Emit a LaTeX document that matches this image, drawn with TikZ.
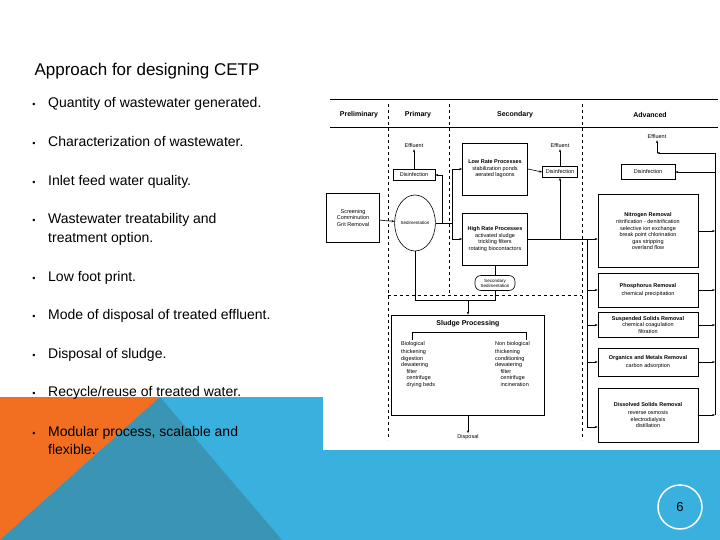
\documentclass[tikz,border=0pt]{standalone}
\usepackage{fontspec}
\setmainfont{Liberation Sans}
\usetikzlibrary{arrows.meta,shapes.geometric}
\definecolor{myorange}{HTML}{F26F21}
\definecolor{myblue}{HTML}{3AB0DE}
\definecolor{myteal}{HTML}{3A95B5}
\begin{document}
\begin{tikzpicture}[x=1pt,y=-1pt,
  bul/.style={anchor=base west,font=\fontsize{14}{17}\selectfont,inner sep=0pt},
  dot/.style={anchor=base,font=\fontsize{9}{10}\selectfont,inner sep=0pt},
  bx/.style={draw,line width=0.6pt,align=center,font=\fontsize{5.5}{6.5}\selectfont,inner sep=1pt},
  lb/.style={font=\fontsize{5.5}{6.5}\selectfont,align=center,inner sep=1pt},
  hd/.style={font=\bfseries\fontsize{7}{8}\selectfont},
  dl/.style={dashed,line width=0.6pt},
  ar/.style={-{Stealth[length=3pt]},line width=0.6pt},
  ln/.style={line width=0.6pt}]
\useasboundingbox (0,0) rectangle (720,540);
\fill[white] (0,0) rectangle (720,540);
% background shapes
\fill[myblue] (0,397) rectangle (720,540);
\fill[myorange] (0,397) -- (160,397) -- (0,540) -- cycle;
\fill[myteal] (160,397) -- (282,540) -- (0,540) -- cycle;
\fill[white] (323,95) rectangle (720,450);
\node[draw=white,line width=1.5pt,circle,minimum size=44pt,font=\fontsize{13}{15}\selectfont] (pg) at (680,507) {6};
% left text
\node[anchor=west,font=\fontsize{17}{20}\selectfont] (title) at (31,71) {Approach for designing CETP};
\foreach \y/\t [count=\i] in {108/{Quantity of wastewater generated.},147/{Characterization of wastewater.},186/{Inlet feed water quality.},281/{Low foot print.},319/{Mode of disposal of treated effluent.},358/{Disposal of sludge.},396/{Recycle/reuse of treated water.},224/{Wastewater treatability and},436/{Modular process, scalable and}}{
  \node[dot] (d\i) at (34,\y) {•};
  \node[bul] (b\i) at (48,\y) {\t};
}
\node[bul] (b8b) at (48,243) {treatment option.};
\node[bul] (b9b) at (48,454) {flexible.};
% diagram frame
\draw[line width=1pt] (330,100) -- (718,100);
\draw[line width=0.8pt] (330,127) -- (718,127);
\node[hd] (h1) at (359,115) {Preliminary};
\node[hd] (h2) at (418,115) {Primary};
\node[hd] (h3) at (515,115) {Secondary};
\node[hd] (h4) at (650,115) {Advanced};
\draw[dl] (388,104) -- (388,440);
\draw[dl] (449,104) -- (449,295);
\draw[dl] (582,104) -- (582,440);
\draw[dl] (388,295) -- (582,295);
% boxes
\node[bx,minimum width=53pt,minimum height=49pt] (scr) at (353,218) {Screening\\Comminution\\Grit Removal};
\node[draw,ellipse,line width=0.6pt,minimum width=36pt,minimum height=56pt,inner sep=0pt,font=\fontsize{4.5}{5}\selectfont] (sed) at (415,223) {Sedimentation};
\node[bx,minimum width=42pt,minimum height=11pt] (dis1) at (414,175) {Disinfection};
\node[lb] (ef1) at (414,146) {Effluent};
\node[bx,minimum width=65pt,minimum height=52pt] (low) at (495,169) {\textbf{Low Rate Processes}\\stabilization ponds\\aerated lagoons};
\node[bx,minimum width=35pt,minimum height=11pt] (dis2) at (560,172) {Disinfection};
\node[lb] (ef2) at (560,146) {Effluent};
\node[bx,minimum width=65pt,minimum height=52pt] (high) at (495,239) {\textbf{High Rate Processes}\\activated sludge\\trickling filters\\rotating biocontactors};
\node[bx,rounded corners=6pt,minimum width=40pt,minimum height=15pt,font=\fontsize{4.5}{5}\selectfont] (ssed) at (495,283) {Secondary\\Sedimentation};
\node[bx,minimum width=54pt,minimum height=15pt] (dis3) at (648,172) {Disinfection};
\node[lb] (ef3) at (657,137) {Effluent};
\node[bx,minimum width=100pt,minimum height=73pt] (nit) at (648,231) {\textbf{Nitrogen Removal}\\[1pt]nitrification - denitrification\\selective ion exchange\\break point chlorination\\gas stripping\\overland flow};
\node[bx,minimum width=100pt,minimum height=34pt] (pho) at (648,290) {\textbf{Phosphorus Removal}\\[2pt]chemical precipitation};
\node[bx,minimum width=100pt,minimum height=25pt] (sus) at (648,325) {\textbf{Suspended Solids Removal}\\chemical coagulation\\filtration};
\node[bx,minimum width=100pt,minimum height=28pt] (org) at (648,362) {\textbf{Organics and Metals Removal}\\[2pt]carbon adsorption};
\node[bx,minimum width=100pt,minimum height=54pt] (dsr) at (648,415) {\textbf{Dissolved Solids Removal}\\[2pt]reverse osmosis\\electrodialysis\\distillation};
\node[bx,minimum width=153pt,minimum height=100pt] (slu) at (468,365) {};
\node[font=\bfseries\fontsize{7}{8}\selectfont] (slt) at (468,324) {Sludge Processing};
\node[lb,align=left,anchor=north west] (bio) at (400,340) {Biological\\[2pt]thickening\\digestion\\dewatering\\\quad filter\\\quad centrifuge\\\quad drying beds};
\node[lb,align=left,anchor=north west] (nbio) at (494,340) {Non biological\\[2pt]thickening\\conditioning\\dewatering\\\quad filter\\\quad centrifuge\\\quad incineration};
\draw[ln] (412,340) -- (412,332) -- (526,332) -- (526,340);
\node[lb] (dsp) at (468,437) {Disposal};
% junction coordinates
\coordinate (jA) at (442,223);
\coordinate (jB) at (452,223);
\coordinate (jC) at (587,239);
\coordinate (jD) at (560,239);
\coordinate (jE) at (587,427);
\coordinate (jF) at (715,410);
\coordinate (jG) at (715,153);
\coordinate (jH) at (657,153);
% connectors
\draw[ar] (scr) -- (sed);
\draw[ln] (sed.east) -- (jB);
\draw[ar] (jA) |- (dis1.east);
\draw[ar] (dis1.north) -- (ef1.south);
\draw[ar] (jB) |- (low.west);
\draw[ar] (jB) |- (high.west);
\draw[ar] (low.east) -- (dis2.west);
\draw[ar] (dis2.north) -- (ef2.south);
\draw[ln] (high.east) -- (jC);
\draw[ar] (jD) -- (dis2.south);
\draw[ln] (jC) -- (jE);
\draw[ar] (jC) -- (nit.west |- jC);
\draw[ar] (jC |- pho.west) -- (pho.west);
\draw[ar] (jC |- sus.west) -- (sus.west);
\draw[ar] (jC |- org.west) -- (org.west);
\draw[ar] (jE) -- (dsr.west |- jE);
\draw[ln] (high.south) -- (ssed.north);
\draw[ln] (ssed.south) -- (495,300) -- (415,300) -- (sed.south);
\draw[ar] (slu.north |- 0,300) -- (slu.north);
\draw[ar] (slu.south) -- (dsp.north);
\draw[ar] (nit.east) -- (jF |- nit.east);
\draw[ar] (pho.east) -- (jF |- pho.east);
\draw[ar] (sus.east) -- (jF |- sus.east);
\draw[ar] (org.east) -- (jF |- org.east);
\draw[ar] (dsr.east) -- (jF |- dsr.east);
\draw[ln] (jF |- dsr.east) -- (jG);
\draw[ar] (jG) -- (jH);
\draw[ar] (jG |- dis3.east) -- (dis3.east);
\draw[ar] (jH) -- (ef3.south);
\end{tikzpicture}
\end{document}
